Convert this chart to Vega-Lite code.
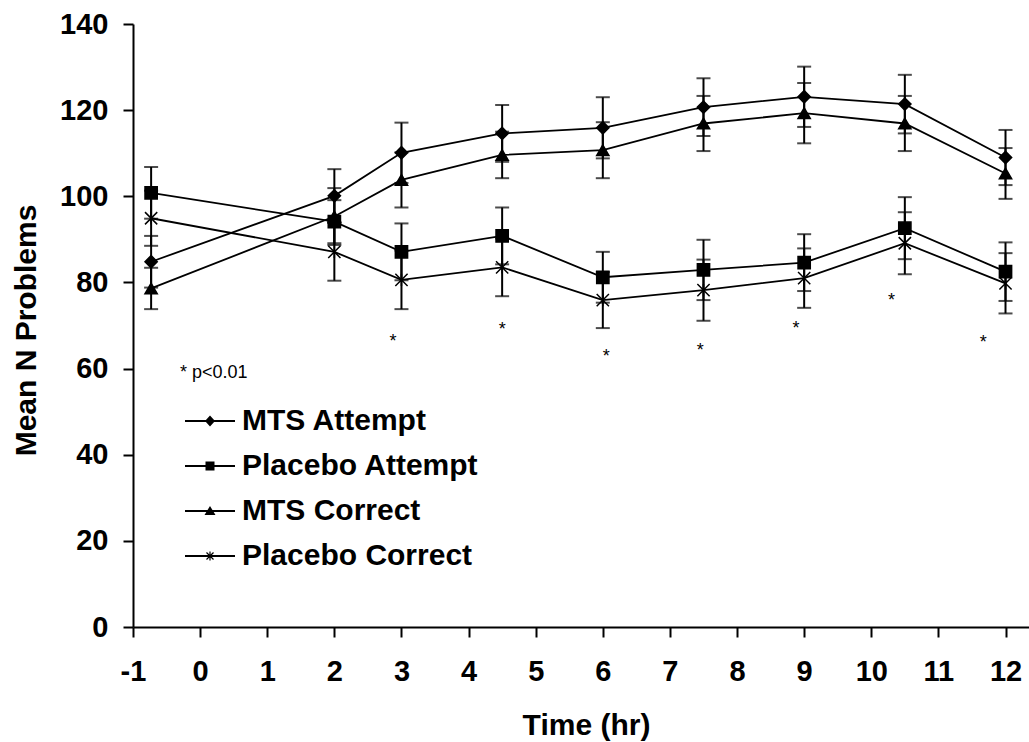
{
  "$schema": "https://vega.github.io/schema/vega-lite/v6.json",
  "width": 896,
  "height": 603,
  "autosize": "none",
  "padding": {"left": 133, "top": 24, "right": 0, "bottom": 115},
  "background": "white",
  "config": {
    "view": {"stroke": null},
    "axis": {
      "grid": false,
      "domainColor": "black",
      "domainWidth": 2,
      "tickColor": "black",
      "tickWidth": 2,
      "tickSize": 10,
      "labelFont": "Liberation Sans",
      "labelFontWeight": "bold",
      "labelFontSize": 29,
      "labelColor": "black",
      "titleFont": "Liberation Sans",
      "titleFontWeight": "bold",
      "titleFontSize": 30,
      "titleColor": "black"
    }
  },
  "datasets": {
    "series": [
      {"series": "MTS Attempt", "time": -0.73, "value": 84.8, "err": 6.0},
      {"series": "MTS Attempt", "time": 2, "value": 100.1, "err": 6.2},
      {"series": "MTS Attempt", "time": 3, "value": 110.1, "err": 7.0},
      {"series": "MTS Attempt", "time": 4.5, "value": 114.6, "err": 6.6},
      {"series": "MTS Attempt", "time": 6, "value": 115.9, "err": 7.1},
      {"series": "MTS Attempt", "time": 7.5, "value": 120.7, "err": 6.7},
      {"series": "MTS Attempt", "time": 9, "value": 123.1, "err": 7.0},
      {"series": "MTS Attempt", "time": 10.5, "value": 121.4, "err": 6.8},
      {"series": "MTS Attempt", "time": 12, "value": 109.0, "err": 6.4},
      {"series": "Placebo Attempt", "time": -0.73, "value": 100.8, "err": 6.0},
      {"series": "Placebo Attempt", "time": 2, "value": 94.1, "err": 5.0},
      {"series": "Placebo Attempt", "time": 3, "value": 87.1, "err": 6.6},
      {"series": "Placebo Attempt", "time": 4.5, "value": 90.8, "err": 6.6},
      {"series": "Placebo Attempt", "time": 6, "value": 81.2, "err": 5.9},
      {"series": "Placebo Attempt", "time": 7.5, "value": 82.9, "err": 7.0},
      {"series": "Placebo Attempt", "time": 9, "value": 84.6, "err": 6.6},
      {"series": "Placebo Attempt", "time": 10.5, "value": 92.6, "err": 7.2},
      {"series": "Placebo Attempt", "time": 12, "value": 82.5, "err": 6.8},
      {"series": "MTS Correct", "time": -0.73, "value": 78.6, "err": 4.8},
      {"series": "MTS Correct", "time": 2, "value": 95.3, "err": 6.6},
      {"series": "MTS Correct", "time": 3, "value": 103.8, "err": 6.4},
      {"series": "MTS Correct", "time": 4.5, "value": 109.6, "err": 5.4},
      {"series": "MTS Correct", "time": 6, "value": 110.7, "err": 6.5},
      {"series": "MTS Correct", "time": 7.5, "value": 116.9, "err": 6.4},
      {"series": "MTS Correct", "time": 9, "value": 119.3, "err": 7.0},
      {"series": "MTS Correct", "time": 10.5, "value": 116.9, "err": 6.4},
      {"series": "MTS Correct", "time": 12, "value": 105.3, "err": 5.9},
      {"series": "Placebo Correct", "time": -0.73, "value": 94.9, "err": 6.4},
      {"series": "Placebo Correct", "time": 2, "value": 87.1, "err": 6.7},
      {"series": "Placebo Correct", "time": 3, "value": 80.6, "err": 6.8},
      {"series": "Placebo Correct", "time": 4.5, "value": 83.5, "err": 6.7},
      {"series": "Placebo Correct", "time": 6, "value": 75.9, "err": 6.5},
      {"series": "Placebo Correct", "time": 7.5, "value": 78.2, "err": 7.1},
      {"series": "Placebo Correct", "time": 9, "value": 81.0, "err": 6.9},
      {"series": "Placebo Correct", "time": 10.5, "value": 89.1, "err": 7.2},
      {"series": "Placebo Correct", "time": 12, "value": 79.8, "err": 7.0}
    ],
    "stars": [
      {"time": 2.875, "value": 67.3, "label": "*"},
      {"time": 4.5, "value": 70.1, "label": "*"},
      {"time": 6.05, "value": 63.9, "label": "*"},
      {"time": 7.45, "value": 65.2, "label": "*"},
      {"time": 8.88, "value": 70.3, "label": "*"},
      {"time": 10.3, "value": 76.9, "label": "*"},
      {"time": 11.67, "value": 67.1, "label": "*"}
    ],
    "note": [
      {"time": -0.3, "value": 57.8, "label": "* p<0.01"}
    ]
  },
  "encoding": {
    "x": {
      "field": "time",
      "type": "quantitative",
      "scale": {"domain": [-1, 12.35], "nice": false, "zero": false},
      "axis": {
        "title": "Time (hr)",
        "values": [-1, 0, 1, 2, 3, 4, 5, 6, 7, 8, 9, 10, 11, 12],
        "labelExpr": "'' + datum.value",
        "labelPadding": 20,
        "labelFlush": false,
        "labelOverlap": false,
        "titleX": 453,
        "titleY": 107,
        "titleBaseline": "alphabetic",
        "titleAlign": "center",
        "titleAnchor": null
      }
    },
    "y": {
      "field": "value",
      "type": "quantitative",
      "scale": {"domain": [0, 140], "nice": false},
      "axis": {
        "title": "Mean N Problems",
        "values": [0, 20, 40, 60, 80, 100, 120, 140],
        "labelPadding": 15,
        "labelFlush": false,
        "labelOverlap": false,
        "titleX": -98,
        "titleY": 306,
        "titleAngle": 270,
        "titleBaseline": "alphabetic",
        "titleAlign": "center",
        "titleAnchor": null
      }
    }
  },
  "resolve": {"scale": {"shape": "independent"}, "legend": {"shape": "independent"}},
  "layer": [
    {
      "data": {"name": "series"},
      "mark": {"type": "line", "color": "black", "strokeWidth": 1.8},
      "encoding": {"detail": {"field": "series", "type": "nominal"}}
    },
    {
      "data": {"name": "series"},
      "mark": {"type": "errorbar", "color": "black", "thickness": 2, "ticks": {"size": 14, "thickness": 2, "color": "black"}},
      "encoding": {
        "yError": {"field": "err"},
        "detail": {"field": "series", "type": "nominal"}
      }
    },
    {
      "data": {"name": "series"},
      "mark": {"type": "point", "filled": true, "size": 150, "color": "black", "stroke": "black", "strokeWidth": 1.5, "opacity": 1},
      "encoding": {
        "shape": {
          "field": "series",
          "type": "nominal",
          "scale": {
            "domain": ["MTS Attempt", "Placebo Attempt", "MTS Correct", "Placebo Correct"],
            "range": ["diamond", "square", "triangle-up", "M-1,-1L1,1M-1,1L1,-1M0,-1L0,1"]
          },
          "legend": null
        }
      }
    },
    {
      "data": {"name": "series"},
      "mark": {"type": "point", "filled": true, "size": 100, "color": "black", "opacity": 0},
      "encoding": {
        "shape": {
          "field": "series",
          "type": "nominal",
          "scale": {
            "domain": ["MTS Attempt", "Placebo Attempt", "MTS Correct", "Placebo Correct"],
            "range": [
              "M-5,-0.2L5,-0.2L5,0.2L-5,0.2ZM-1,0L0,-1.1L1,0L0,1.1Z",
              "M-5,-0.2L5,-0.2L5,0.2L-5,0.2ZM-0.9,-0.9L0.9,-0.9L0.9,0.9L-0.9,0.9Z",
              "M-5,-0.2L5,-0.2L5,0.2L-5,0.2ZM0,-1L1.1,0.8L-1.1,0.8Z",
              "M-5,-0.2L5,-0.2L5,0.2L-5,0.2ZM-0.12,-0.9L0.12,-0.9L0.12,0.9L-0.12,0.9ZM-0.615,-0.785L0.785,0.615L0.615,0.785L-0.785,-0.615ZM-0.785,0.615L0.615,-0.785L0.785,-0.615L-0.615,0.785Z"
            ]
          },
          "legend": {
            "title": null,
            "orient": "none",
            "legendX": 62,
            "legendY": 382,
            "padding": 0,
            "symbolSize": 100,
            "symbolStrokeWidth": 0,
            "symbolFillColor": "black",
            "symbolOpacity": 1,
            "labelOffset": 17,
            "rowPadding": 15,
            "labelFont": "Liberation Sans",
            "labelFontWeight": "bold",
            "labelFontSize": 30,
            "labelColor": "black",
            "labelLimit": 400
          }
        }
      }
    },
    {
      "data": {"name": "stars"},
      "mark": {"type": "text", "font": "Liberation Sans", "fontSize": 18, "color": "black", "baseline": "alphabetic", "dy": 10},
      "encoding": {"text": {"field": "label", "type": "nominal"}}
    },
    {
      "data": {"name": "note"},
      "mark": {"type": "text", "font": "Liberation Sans", "fontSize": 18, "color": "black", "align": "left", "baseline": "alphabetic"},
      "encoding": {"text": {"field": "label", "type": "nominal"}}
    }
  ]
}
